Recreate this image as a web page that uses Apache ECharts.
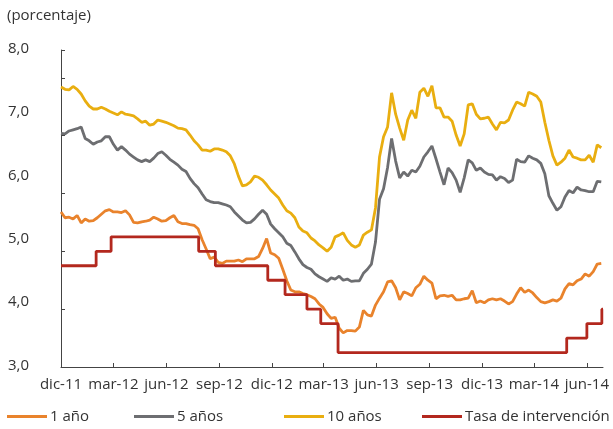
<!DOCTYPE html>
<html><head><meta charset="utf-8">
<script src="https://cdn.jsdelivr.net/npm/echarts@6/dist/echarts.min.js"></script>
<style>html,body{margin:0;padding:0;background:#fff}#c{width:613px;height:429px}</style>
</head><body><div id="c"></div>
<script>
// ---- data ----
const startDate = '2011-12-01';   // first weekly observation
const endDate = '2014-06-29';     // end of x axis
const quarterTicks = ['2011-12-01','2012-03-01','2012-06-01','2012-09-01','2012-12-01','2013-03-01','2013-06-01','2013-09-01','2013-12-01','2014-03-01','2014-06-01'];
const quarterLabels = ['dic-11','mar-12','jun-12','sep-12','dic-12','mar-13','jun-13','sep-13','dic-13','mar-14','jun-14'];
const yTickLabels = ['3,0','4,0','5,0','6,0','7,0','8,0'];
const seriesNames = ['1 año','5 años','10 años','Tasa de intervención'];

// weekly observations (one per week from startDate)
const unAno = [
5.68,5.58,5.59,5.56,5.62,5.49,5.56,5.52,5.53,5.58,
5.64,5.70,5.72,5.68,5.68,5.67,5.70,5.63,5.50,5.49,
5.51,5.52,5.54,5.59,5.56,5.52,5.53,5.58,5.62,5.51,
5.48,5.48,5.46,5.45,5.39,5.20,5.04,4.87,4.90,4.81,
4.79,4.83,4.83,4.83,4.85,4.82,4.87,4.87,4.87,4.91,
5.05,5.22,4.97,4.94,4.88,4.69,4.49,4.33,4.30,4.30,
4.27,4.25,4.22,4.18,4.09,4.03,3.92,3.84,3.86,3.67,
3.59,3.63,3.63,3.62,3.69,3.98,3.90,3.88,4.07,4.19,
4.30,4.47,4.49,4.37,4.16,4.30,4.27,4.23,4.37,4.43,
4.57,4.50,4.45,4.18,4.23,4.24,4.22,4.24,4.16,4.16,
4.18,4.19,4.32,4.11,4.14,4.11,4.16,4.18,4.16,4.18,
4.14,4.09,4.13,4.26,4.37,4.29,4.33,4.28,4.20,4.13,
4.11,4.13,4.16,4.14,4.19,4.35,4.44,4.42,4.49,4.52,
4.61,4.57,4.65,4.78,4.79];
const cincoAnos = [
7.04,7.03,7.08,7.10,7.12,7.15,6.95,6.91,6.85,6.89,
6.91,6.98,6.98,6.85,6.75,6.81,6.75,6.68,6.63,6.58,
6.55,6.58,6.55,6.61,6.69,6.72,6.66,6.59,6.54,6.49,
6.42,6.38,6.26,6.17,6.10,5.99,5.89,5.86,5.84,5.84,
5.82,5.80,5.77,5.68,5.61,5.54,5.49,5.50,5.56,5.64,
5.71,5.64,5.47,5.39,5.32,5.25,5.14,5.10,4.99,4.87,
4.77,4.72,4.69,4.61,4.56,4.52,4.48,4.54,4.52,4.57,
4.50,4.52,4.48,4.49,4.49,4.62,4.69,4.78,5.16,5.90,
6.08,6.45,6.95,6.56,6.27,6.37,6.30,6.40,6.37,6.47,
6.63,6.72,6.82,6.60,6.37,6.15,6.44,6.36,6.23,6.02,
6.27,6.58,6.53,6.40,6.44,6.37,6.33,6.32,6.23,6.29,
6.26,6.19,6.23,6.59,6.55,6.54,6.65,6.61,6.58,6.52,
6.34,5.96,5.83,5.71,5.77,5.94,6.05,6.01,6.11,6.06,
6.05,6.03,6.03,6.21,6.20];
const diezAnos = [
7.84,7.80,7.79,7.85,7.80,7.72,7.60,7.51,7.46,7.46,
7.49,7.46,7.42,7.39,7.36,7.41,7.37,7.36,7.34,7.29,
7.23,7.25,7.18,7.20,7.27,7.25,7.23,7.20,7.17,7.13,
7.12,7.10,7.01,6.91,6.84,6.75,6.75,6.73,6.77,6.77,
6.75,6.72,6.65,6.51,6.30,6.13,6.15,6.20,6.30,6.28,
6.23,6.15,6.06,5.99,5.92,5.80,5.70,5.66,5.58,5.42,
5.35,5.32,5.23,5.18,5.11,5.06,5.00,5.07,5.25,5.28,
5.32,5.19,5.11,5.07,5.11,5.28,5.33,5.37,5.75,6.63,
6.98,7.15,7.74,7.37,7.13,6.92,7.27,7.44,7.30,7.75,
7.82,7.68,7.86,7.48,7.48,7.32,7.32,7.25,7.01,6.82,
7.03,7.53,7.55,7.37,7.29,7.30,7.32,7.20,7.10,7.23,
7.22,7.27,7.44,7.58,7.55,7.51,7.75,7.72,7.68,7.58,
7.23,6.92,6.65,6.49,6.54,6.61,6.75,6.63,6.61,6.58,
6.58,6.66,6.54,6.84,6.79];
// policy rate: date of each change and new level
const tasaFechas = ['2011-12-01','2012-01-31','2012-02-26','2012-07-27','2012-08-25','2012-11-24','2012-12-24','2013-01-31','2013-02-24','2013-03-26','2014-04-27','2014-06-01','2014-06-27','2014-06-29'];
const tasaValores = [4.75,5.00,5.25,5.00,4.75,4.50,4.25,4.00,3.75,3.25,3.50,3.75,4.00,4.00];

// ---- build: x = days since startDate ----
function t(s){const p=s.split('-').map(Number);return Date.UTC(p[0],p[1]-1,p[2]);}
const t0 = t(startDate);
const day = s => Math.round((t(s)-t0)/864e5);
const pair = arr => arr.map((v,k)=>[7*k, v]);
const tickDays = quarterTicks.map(day);
const colors = ['#E9832C','#6D6E71','#E9AE10','#B3281E'];
const font = 'Open Sans';
const txt = '#333333';

const chart = echarts.init(document.getElementById('c'), null, {renderer:'canvas'});
const mkLine = (name, data, color, extra) => Object.assign({
  name, type:'line', data, xAxisIndex:0, yAxisIndex:0, showSymbol:false, symbol:'none',
  lineStyle:{width:2.8,color}, itemStyle:{color}, animation:false
}, extra||{});
const legendLefts = [7,134,284,422];
chart.setOption({
  animation:false,
  title:{text:'(porcentaje)', left:7, top:8, padding:0, textStyle:{fontFamily:font,fontSize:15,fontWeight:'normal',color:txt}},
  grid:[{left:61,right:10,top:50,bottom:62},{left:61,right:10,top:48.3,bottom:63.3}],
  xAxis:[{
    type:'value', gridIndex:0, min:0, max:day(endDate),
    axisLine:{lineStyle:{color:'#444',width:1}},
    axisTick:{inside:true,length:4,customValues:tickDays,lineStyle:{color:'#444'}},
    axisLabel:{customValues:tickDays, margin:10, fontFamily:font, fontSize:15, color:txt,
      formatter:v=>{const i=tickDays.indexOf(Math.round(v));return i>=0?quarterLabels[i]:'';}},
    splitLine:{show:false}
  },{type:'value', gridIndex:1, min:0, max:1, show:false}],
  yAxis:[{
    type:'value', gridIndex:0, min:3, max:8.48, interval:1,
    axisLine:{show:true,lineStyle:{color:'#444',width:1}},
    axisTick:{show:true,inside:true,length:4,lineStyle:{color:'#444'}},
    axisLabel:{show:false}, splitLine:{show:false}
  },{
    type:'value', gridIndex:1, min:3, max:8, interval:1,
    axisLine:{show:false}, axisTick:{show:false}, splitLine:{show:false},
    axisLabel:{margin:32, fontFamily:font, fontSize:15, color:txt, formatter:v=>yTickLabels[Math.round(v-3)]}
  }],
  legend: seriesNames.map((n,i)=>({data:[n], left:legendLefts[i], top:409, padding:0, icon:'rect', itemWidth:40, itemHeight:3, itemGap:4,
    textStyle:{fontFamily:font,fontSize:15,color:txt,padding:[0,0,0,-2]}})),
  series:[
    mkLine(seriesNames[0], pair(unAno), colors[0]),
    mkLine(seriesNames[1], pair(cincoAnos), colors[1]),
    mkLine(seriesNames[2], pair(diezAnos), colors[2]),
    mkLine(seriesNames[3], tasaFechas.map((d,i)=>[day(d), tasaValores[i]]), colors[3], {step:'end'})
  ]
});
</script></body></html>
